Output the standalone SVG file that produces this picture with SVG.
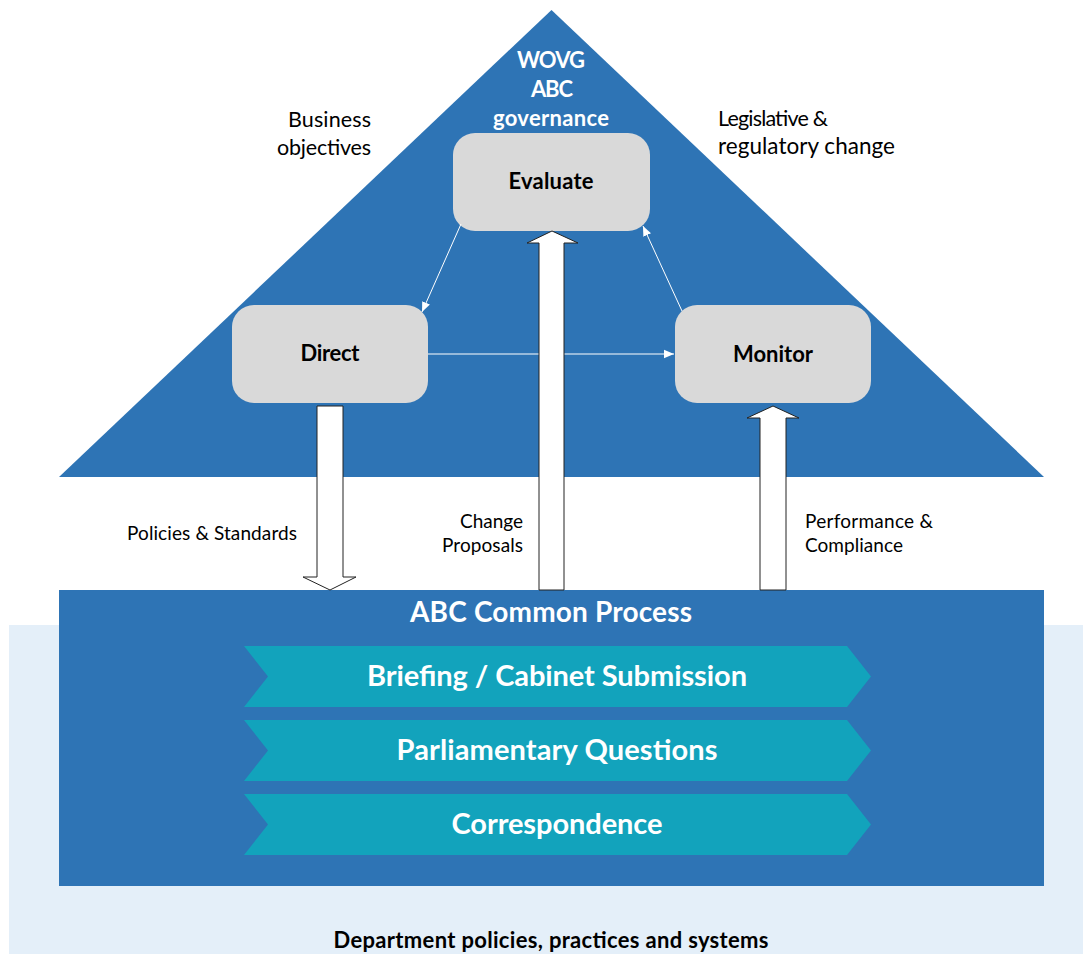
<svg xmlns="http://www.w3.org/2000/svg" width="1083" height="954" viewBox="0 0 1083 954">
<defs>
<style>
.bg{fill:#E4EFF9}
.blue{fill:#2E74B5}
.chev{fill:#12A3BC}
.box{fill:#D9D9D9}
.lbl{font-family:Lato,"Liberation Sans",sans-serif}
.b{font-weight:bold}
.w{fill:#FFFFFF}
.k{fill:#000000}
.thin{stroke:#FFFFFF;stroke-width:1;fill:none}
.blk{fill:#FFFFFF;stroke:#222222;stroke-width:1}
</style>
<marker id="ah" markerUnits="userSpaceOnUse" markerWidth="10" markerHeight="10" viewBox="0 0 10 10" refX="10" refY="5" orient="auto">
<path d="M0,0.8 L10,5 L0,9.2 Z" fill="#FFFFFF"/>
</marker>
</defs>

<g id="background">
<rect class="bg" x="9" y="625" width="1074" height="329"/>
<rect class="blue" x="59" y="590" width="985" height="296"/>
<polygon class="blue" points="551.5,10 1044,477 59,477"/>
</g>

<g id="governance-title">
<text class="lbl b w" text-anchor="middle" font-size="22" x="551" y="68" textLength="68">WOVG</text>
<text class="lbl b w" text-anchor="middle" font-size="22" x="552" y="97" textLength="42">ABC</text>
<text class="lbl b w" text-anchor="middle" font-size="22" x="551" y="126" textLength="116">governance</text>
</g>

<g id="business-objectives">
<text class="lbl k" text-anchor="end" font-size="21.5" x="371" y="127" textLength="83">Business</text>
<text class="lbl k" text-anchor="end" font-size="21.5" x="371" y="155" textLength="94">objectives</text>
</g>

<g id="legislative-change">
<text class="lbl k" font-size="21.5" x="718" y="126" textLength="110">Legislative &amp;</text>
<text class="lbl k" font-size="22.5" x="718" y="154" textLength="177">regulatory change</text>
</g>

<g id="evaluate">
<rect class="box" x="453" y="133" width="197" height="98" rx="22"/>
<text class="lbl b k" text-anchor="middle" font-size="22" x="551" y="189" textLength="85">Evaluate</text>
</g>

<g id="direct">
<rect class="box" x="232" y="305" width="196" height="98" rx="22"/>
<text class="lbl b k" text-anchor="middle" font-size="22" x="330" y="361" textLength="59">Direct</text>
</g>

<g id="monitor">
<rect class="box" x="675" y="305" width="196" height="98" rx="22"/>
<text class="lbl b k" text-anchor="middle" font-size="22" x="773" y="362" textLength="80">Monitor</text>
</g>

<g id="common-process">
<text class="lbl b w" text-anchor="middle" font-size="28" x="551" y="622" textLength="282">ABC Common Process</text>
</g>

<g id="briefing">
<polygon class="chev" points="244,646 847,646 871,676.5 847,707 244,707 268,676.5"/>
<text class="lbl b w" text-anchor="middle" font-size="29" x="557" y="686" textLength="380">Briefing / Cabinet Submission</text>
</g>

<g id="parliamentary">
<polygon class="chev" points="244,720 847,720 871,750.5 847,781 244,781 268,750.5"/>
<text class="lbl b w" text-anchor="middle" font-size="29" x="557" y="760" textLength="321">Parliamentary Questions</text>
</g>

<g id="correspondence">
<polygon class="chev" points="244,794 847,794 871,824.5 847,855 244,855 268,824.5"/>
<text class="lbl b w" text-anchor="middle" font-size="29" x="557" y="834" textLength="211">Correspondence</text>
</g>

<g id="department">
<text class="lbl b k" text-anchor="middle" font-size="22" x="551" y="948" textLength="435">Department policies, practices and systems</text>
</g>

<g id="connectors">
<line class="thin" x1="461" y1="224" x2="422" y2="312" marker-end="url(#ah)"/>
<line class="thin" x1="428" y1="354" x2="674" y2="354" marker-end="url(#ah)"/>
<line class="thin" x1="682" y1="311" x2="643" y2="226" marker-end="url(#ah)"/>
<path class="blk" d="M317,406 H343 V577 H356 L330,590 L303,577 H317 Z"/>
<path class="blk" d="M539,590 V243 H527 L552,231 L578,243 H564 V590 Z"/>
<path class="blk" d="M760,590 V418 H747 L773,406 L799,418 H786 V590 Z"/>
<text class="lbl k" font-size="19" x="127" y="540" textLength="170">Policies &amp; Standards</text>
<text class="lbl k" text-anchor="end" font-size="19" x="523" y="528" textLength="63">Change</text>
<text class="lbl k" text-anchor="end" font-size="19" x="523" y="552" textLength="81">Proposals</text>
<text class="lbl k" font-size="19" x="805" y="528" textLength="128">Performance &amp;</text>
<text class="lbl k" font-size="19" x="805" y="552" textLength="98">Compliance</text>
</g>
</svg>
